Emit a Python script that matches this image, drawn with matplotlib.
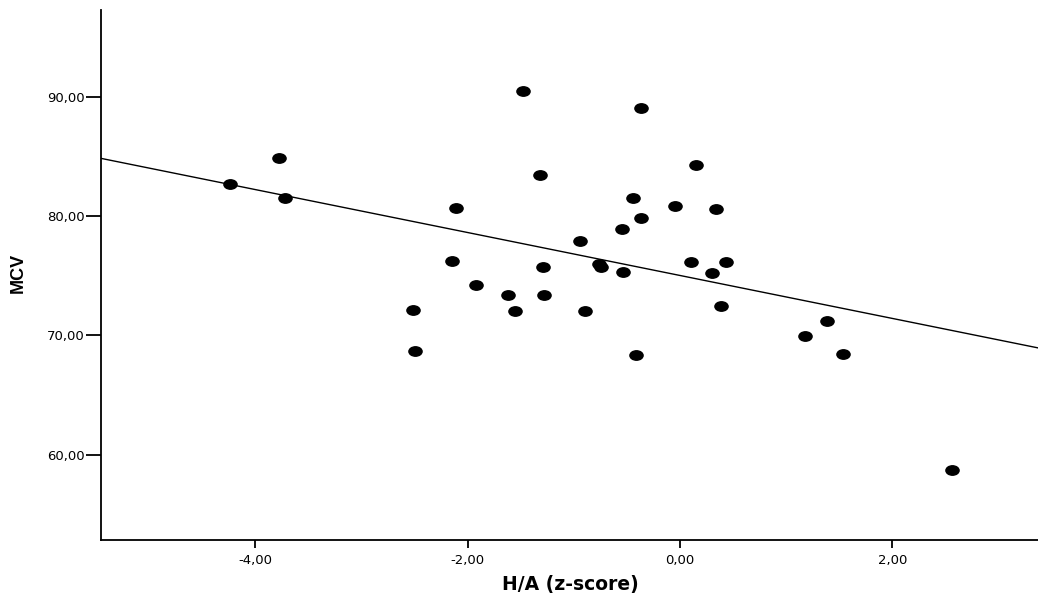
import numpy as np
import matplotlib.pyplot as plt
from matplotlib.path import Path
from matplotlib.transforms import Affine2D
from matplotlib.ticker import FuncFormatter

# H/A z-score vs MCV
ha_z = [-4.24, -3.77, -3.72, -2.51, -2.49, -2.11, -2.15, -1.92, -1.62, -1.55,
        -1.48, -1.32, -1.29, -1.28, -0.94, -0.89, -0.76, -0.74, -0.55, -0.54,
        -0.44, -0.41, -0.37, -0.37, -0.05, 0.10, 0.15, 0.30, 0.34, 0.39,
        0.43, 1.18, 1.38, 1.53, 2.56]
mcv = [82.70, 84.87, 81.50, 72.12, 68.66, 80.69, 76.22, 74.24, 73.35, 72.04,
       90.46, 83.40, 75.72, 73.35, 77.90, 72.06, 75.95, 75.72, 78.90, 75.33,
       81.50, 68.35, 89.06, 79.80, 80.80, 76.11, 84.26, 75.22, 80.60, 72.43,
       76.11, 69.94, 71.17, 68.43, 58.72]

x_ticks = [-4, -2, 0, 2]
y_ticks = [60, 70, 80, 90]

plt.rcParams['font.family'] = ['DejaVu Sans']

fig = plt.figure(figsize=(10.38, 5.94), dpi=100)
ax = fig.add_axes([101/1038, 1 - 540/594, 1 - 101/1038, 530/594])

# ellipse marker, a bit wider than tall
ellipse = Path.unit_circle().transformed(Affine2D().scale(1.4, 1.0))
ax.plot(ha_z, mcv, linestyle='none', marker=ellipse, markersize=9.5,
        color='black')

# linear fit line across the whole axis
xlim = (-5.45, 3.37)
slope, intercept = np.polyfit(ha_z, mcv, 1)
xs = np.array(xlim)
ax.plot(xs, intercept + slope * xs, color='black', linewidth=1.0)

ax.set_xlim(xlim)
ax.set_ylim(52.84, 97.25)
ax.set_xticks(x_ticks)
ax.set_yticks(y_ticks)
fmt = FuncFormatter(lambda v, p: f"{v:.2f}".replace('.', ','))
ax.xaxis.set_major_formatter(fmt)
ax.yaxis.set_major_formatter(fmt)
ax.tick_params(direction='out', width=1.3, labelsize=9.5, color='black')
ax.tick_params(axis='x', length=6, pad=4)
ax.tick_params(axis='y', length=11, pad=1)

for s in ['top', 'right']:
    ax.spines[s].set_visible(False)
for s in ['left', 'bottom']:
    ax.spines[s].set_linewidth(1.3)

fig.text(570/1038, 1 - 590/594, "H/A (z-score)", fontsize=13.5,
         fontweight='bold', ha='center', va='baseline')
fig.text(18/1038, 1 - 273/594, "MCV", fontsize=13, fontweight='bold',
         family='Liberation Sans', rotation=90, ha='center', va='center')

fig.savefig("out.png", dpi=100)
